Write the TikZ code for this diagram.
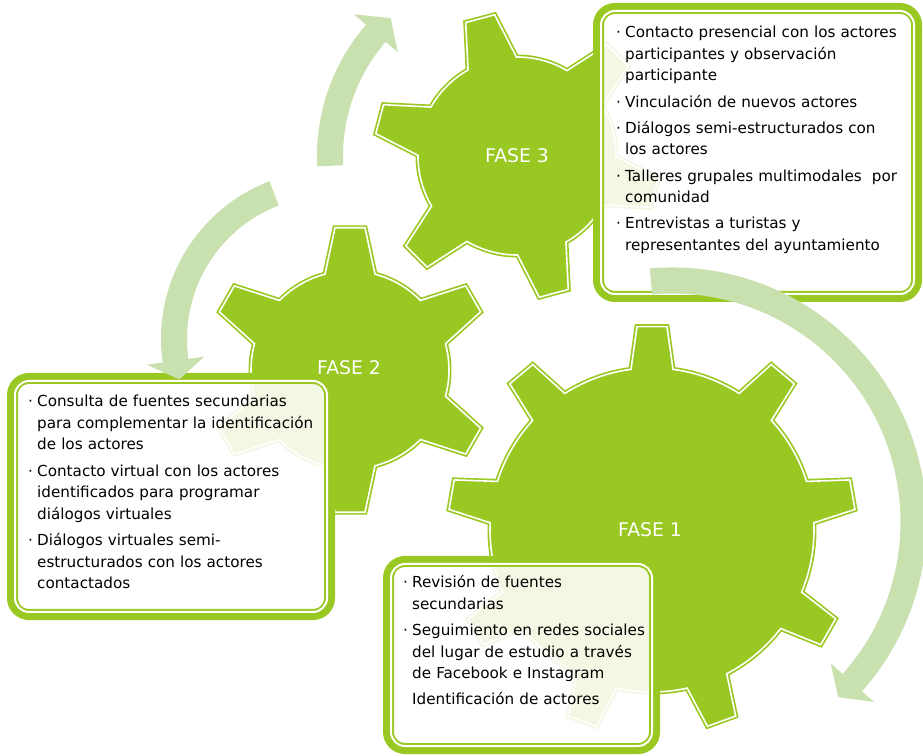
\documentclass[tikz,border=0pt]{standalone}
\usepackage{fontspec}
\setmainfont{DejaVu Sans}
\usetikzlibrary{calc}
\definecolor{fasegreen}{RGB}{154,200,34}
\definecolor{arrowgreen}{RGB}{201,224,175}
\def\gear[#1](#2)(#3:#4:#5:#6:#7){%
	\pgfmathsetmacro\gstep{360/#3}
	\pgfmathsetmacro\gab{asin(#7/#5)}
	\pgfmathsetmacro\gao{asin(15/#6)}
	\draw[#1] ($(#2)+({#4-\gab}:#5)$)
	\foreach \k in {1,...,#3}{
		-- ($(#2)+({#4+(\k-1)*\gstep-\gao}:#6)$)
		-- ($(#2)+({#4+(\k-1)*\gstep+\gao}:#6)$)
		-- ($(#2)+({#4+(\k-1)*\gstep+\gab}:#5)$)
		arc[start angle={#4+(\k-1)*\gstep+\gab}, delta angle={\gstep-2*\gab}, radius=#5]
	} -- cycle;}
\def\ringarrow[#1](#2)(#3:#4:#5:#6){%
	\fill[#1] ($(#2)+({#3}:{#6+13})$) arc[start angle=#3, end angle=#4, radius={#6+13}]
	-- ($(#2)+({#4}:{#6+29})$) -- ($(#2)+({#5}:#6)$) -- ($(#2)+({#4}:{#6-29})$)
	-- ($(#2)+({#4}:{#6-13})$) arc[start angle=#4, end angle=#3, radius={#6-13}] -- cycle;}
\newcommand\bulletline{\hangindent=9pt\hangafter=1\noindent\makebox[9pt][l]{·}}

\begin{document}
\begin{tikzpicture}[x=1pt, y=1pt,
	gearbody/.style={fill=fasegreen, draw=fasegreen, line width=5pt, line join=miter, postaction={draw=white, line width=1.6pt}},
	boxframe/.style={draw=fasegreen, line width=11pt, fill=white, fill opacity=0.88, rounded corners=16.5pt},
	boxline/.style={draw=white, line width=2pt, rounded corners=14pt},
	boxtext/.style={anchor=north west, inner sep=0pt, text width=#1, font=\fontsize{15.2}{21.6}\selectfont},
	faselabel/.style={text=white, font=\fontsize{18.8}{22}\selectfont},
	arrowbody/.style={fill=arrowgreen}]
	%%%%% START %%%%%
	\useasboundingbox (0,0) rectangle (923,755);
	
	\coordinate (g1) at (652,225);
	\coordinate (g2) at (350,385);
	\coordinate (g3) at (517,599);
	
	\gear[gearbody](g3)(6:105:99:143:25)
	\gear[gearbody](g2)(6:90:99:143:25)
	\gear[gearbody](g1)(9:90:162:204:21)
	
	\node[faselabel] (fase3) at (517,599) {FASE 3};
	\node[faselabel] (fase2) at (349,387) {FASE 2};
	\node[faselabel] (fase1) at (650,225) {FASE 1};
	
	% text boxes
	\draw[boxframe] (598.5,458.5) rectangle (916.5,746.5);
	\draw[boxline] (601,461) rectangle (914,744);
	\draw[boxframe] (12.5,140.5) rectangle (329.5,376.5);
	\draw[boxline] (15,143) rectangle (327,374);
	\draw[boxframe] (388.5,6.5) rectangle (654.5,193.5);
	\draw[boxline] (391,9) rectangle (652,191);
	
	\node[boxtext=300pt] (txt3) at (616,730.5) {\raggedright\setlength\parskip{4.6pt}%
		\bulletline\rule{0pt}{13pt}Contacto presencial con los actores\newline participantes y observación\newline participante\par
		\bulletline Vinculación de nuevos actores\par
		\bulletline Diálogos semi-estructurados con\newline los actores\par
		\bulletline Talleres grupales multimodales \ por\newline comunidad\par
		\bulletline Entrevistas a turistas y\newline representantes del ayuntamiento\par};
	\node[boxtext=300pt] (txt2) at (28,361.5) {\raggedright\setlength\parskip{4.6pt}%
		\bulletline\rule{0pt}{13pt}Consulta de fuentes secundarias\newline para complementar la identificación\newline de los actores\par
		\bulletline Contacto virtual con los actores\newline identificados para programar\newline diálogos virtuales\par
		\bulletline Diálogos virtuales semi-\newline estructurados con los actores\newline contactados\par};
	\node[boxtext=250pt] (txt1) at (403,180.5) {\raggedright\setlength\parskip{4.6pt}%
		\bulletline\rule{0pt}{13pt}Revisión de fuentes\newline secundarias\par
		\bulletline Seguimiento en redes sociales\newline del lugar de estudio a través\newline de Facebook e Instagram\par
		\noindent\hspace*{9pt}Identificación de actores\par};
	
	% cycle arrows
	\ringarrow[arrowbody](g3)(183:139:132.5:187)
	\ringarrow[arrowbody](330,416)(111:188:195:156)
	\ringarrow[arrowbody](672,233)(95:-41.7:-46.5:241.5)
	%%%%% END %%%%%
\end{tikzpicture}
\end{document}
